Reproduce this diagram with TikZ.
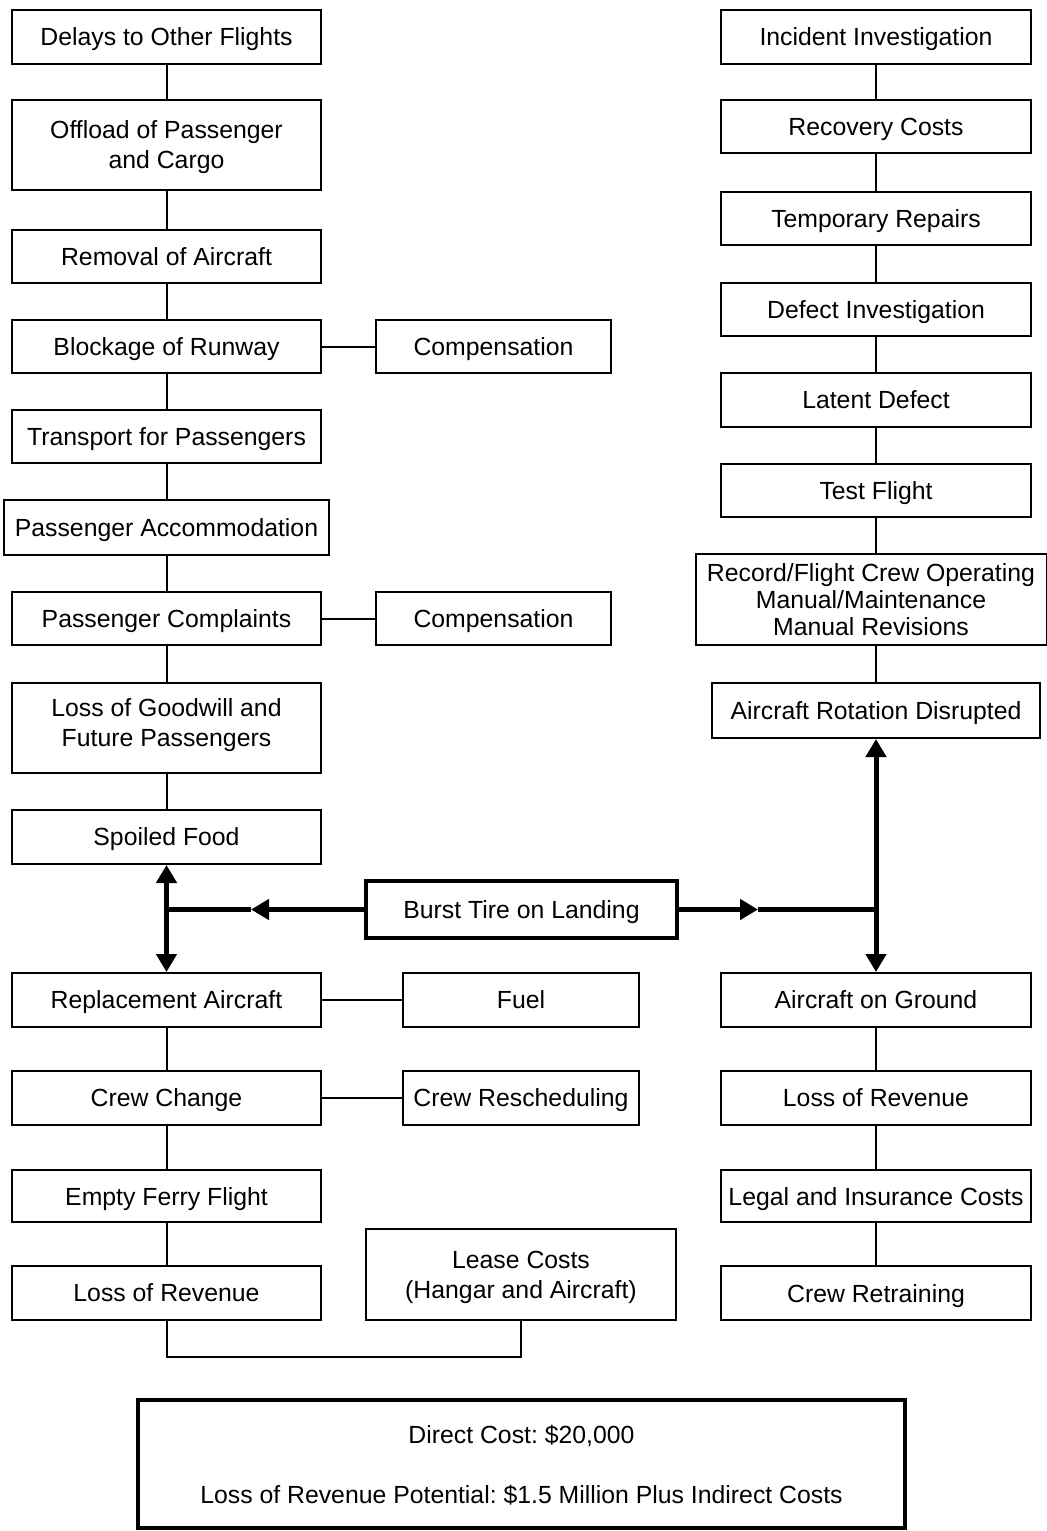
\documentclass[tikz,border=0pt]{standalone}
\usepackage{fontspec}
\setmainfont{Liberation Sans}
\usetikzlibrary{arrows.meta}
\frenchspacing
\begin{document}
\begin{tikzpicture}[x=0.5pt,y=-0.5pt,
  box/.style={draw, line width=1pt, align=center, inner sep=0pt, text depth=0pt,
    font=\fontsize{12.4}{15}\selectfont},
  sz/.style 2 args={minimum width=#1*0.5pt, minimum height=#2*0.5pt},
  heavy/.style={box, line width=2pt},
  link/.style={line width=1pt},
  flow/.style={line width=2.5pt},
  tipped/.style={-{Triangle[length=9pt,width=10pt]}},
  twoway/.style={{Triangle[length=9pt,width=10pt]}-{Triangle[length=9pt,width=10pt]}}
]
\useasboundingbox (0,0) rectangle (1047,1531);

% left column
\node[box, sz={309}{54}] (L1) at (166.5,37) {Delays to Other Flights};
\node[box, sz={309}{90}, text depth=-3pt] (L2) at (166.5,145) {Offload of Passenger\\and Cargo};
\node[box, sz={309}{53}] (L3) at (166.5,256.5) {Removal of Aircraft};
\node[box, sz={309}{53}] (L4) at (166.5,346.5) {Blockage of Runway};
\node[box, sz={235}{53}] (C1) at (493.5,346.5) {Compensation};
\node[box, sz={309}{53}] (L5) at (166.5,436.5) {Transport for Passengers};
\node[box, sz={325}{55}] (L6) at (166.5,527.5) {Passenger Accommodation};
\node[box, sz={309}{53}] (L7) at (166.5,618.5) {Passenger Complaints};
\node[box, sz={235}{53}] (C2) at (493.5,618.5) {Compensation};
\node[box, sz={309}{90}, text depth=5pt] (L8) at (166.5,728) {Loss of Goodwill and\\Future Passengers};
\node[box, sz={309}{54}] (L9) at (166.5,837) {Spoiled Food};

% centre
\node[heavy, sz={311}{57}] (BT) at (521.5,909.5) {Burst Tire on Landing};

% lower left
\node[box, sz={309}{54}] (L10) at (166.5,1000) {Replacement Aircraft};
\node[box, sz={236}{54}] (F1) at (521,1000) {Fuel};
\node[box, sz={309}{54}] (L11) at (166.5,1098) {Crew Change};
\node[box, sz={236}{54}] (F2) at (521,1098) {Crew Rescheduling};
\node[box, sz={309}{52}] (L12) at (166.5,1196) {Empty Ferry Flight};
\node[box, sz={309}{54}] (L13) at (166.5,1293) {Loss of Revenue};
\node[box, sz={310}{91}] (LC) at (521,1274.5) {Lease Costs\\(Hangar and Aircraft)};

% right column
\node[box, sz={310}{54}] (R1) at (876,37) {Incident Investigation};
\node[box, sz={310}{53}] (R2) at (876,126.5) {Recovery Costs};
\node[box, sz={310}{53}] (R3) at (876,218.5) {Temporary Repairs};
\node[box, sz={310}{53}] (R4) at (876,309.5) {Defect Investigation};
\node[box, sz={310}{54}] (R5) at (876,400) {Latent Defect};
\node[box, sz={310}{53}] (R6) at (876,490.5) {Test Flight};
\node[box, sz={351}{91}, text depth=-3pt, font=\fontsize{12.4}{13.5}\selectfont] (R7) at (871,599.5)
  {Record/Flight Crew Operating\\Manual/Maintenance\\Manual Revisions};
\node[box, sz={328}{55}] (R8) at (876,710.5) {Aircraft Rotation Disrupted};
\node[box, sz={310}{54}] (R9) at (876,1000) {Aircraft on Ground};
\node[box, sz={310}{54}] (R10) at (876,1098) {Loss of Revenue};
\node[box, sz={310}{52}] (R11) at (876,1196) {Legal and Insurance Costs};
\node[box, sz={310}{54}] (R12) at (876,1293) {Crew Retraining};

% summary
\node[heavy, line width=2.25pt, sz={767}{128}] (S) at (521.5,1464)
  {Direct Cost: \$20,000\\[15pt]Loss of Revenue Potential: \$1.5 Million Plus Indirect Costs};

% thin chains
\foreach \a/\b in {L1/L2,L2/L3,L3/L4,L4/L5,L5/L6,L6/L7,L7/L8,L8/L9,
                   L10/L11,L11/L12,L12/L13,
                   R1/R2,R2/R3,R3/R4,R4/R5,R5/R6,
                   R9/R10,R10/R11,R11/R12}
  \draw[link] (\a.south) -- (\b.north);
\draw[link] (R6.south) -- (R6.south |- R7.north);
\draw[link] (R7.south -| R8.north) -- (R8.north);
\draw[link] (L4.east) -- (C1.west);
\draw[link] (L7.east) -- (C2.west);
\draw[link] (L10.east) -- (F1.west);
\draw[link] (L11.east) -- (F2.west);
\draw[link] (L13.south) -- ++(0,36) -| (LC.south);

% heavy flow from the burst tire
\coordinate (jl) at (166.5,909.5);
\coordinate (jr) at (876,909.5);
\coordinate (ml) at (251,909.5);
\coordinate (mr) at (758,909.5);
\draw[flow, tipped] (BT.west) -- (ml);
\draw[flow] (ml) -- (jl);
\draw[flow, tipped] (BT.east) -- (mr);
\draw[flow] (mr) -- (jr);
\draw[flow, twoway] (L9.south) -- (L10.north);
\draw[flow, twoway] (R8.south) -- (R9.north);
\end{tikzpicture}
\end{document}
